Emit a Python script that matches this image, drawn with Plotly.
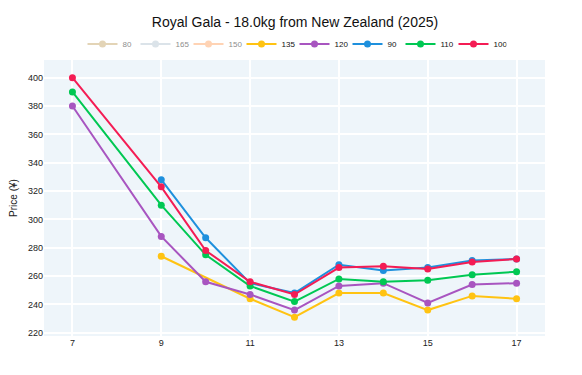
import plotly.graph_objects as go

weeks = [7, 9, 10, 11, 12, 13, 14, 15, 16, 17]

series_names = ["80", "165", "150", "135", "120", "90", "110", "100"]
colors = ["#C8A96E", "#B8C8D4", "#FFA96B", "#FFC312", "#A855C0", "#1E90DD", "#00C853", "#F41C54"]

s80 = [None] * 10
s165 = [None] * 10
s150 = [None] * 10
s135 = [None, 274, None, 244, 231, 248, 248, 236, 246, 244]
s120 = [380, 288, 256, 247, 236, 253, 255, 241, 254, 255]
s90 = [None, 328, 287, 255, 248, 268, 264, 266, 271, 272]
s110 = [390, 310, 275, 253, 242, 258, 256, 257, 261, 263]
s100 = [400, 323, 278, 256, 247, 266, 267, 265, 270, 272]

values = [s80, s165, s150, s135, s120, s90, s110, s100]
visible = [False, False, False, True, True, True, True, True]

W, H = 574, 367  # page body has an 8px margin in the browser

fig = go.Figure()
for name, col, vals, vis in zip(series_names, colors, values, visible):
    xs = [w for w, v in zip(weeks, vals) if v is not None]
    ys = [v for v in vals if v is not None]
    fig.add_trace(go.Scatter(
        x=xs if xs else [weeks[0]], y=ys if ys else [300],
        mode="lines+markers", name=name,
        line=dict(color=col, width=2),
        marker=dict(color=col, size=7),
        visible=True if vis else "legendonly",
    ))

fig.update_layout(
    width=W, height=H,
    margin=dict(l=36, r=37, t=52, b=39, autoexpand=False),
    paper_bgcolor="white",
    plot_bgcolor="#EEF5FA",
    font=dict(family="Liberation Sans, Arial, sans-serif", size=9, color="#222"),
    title=dict(text="Royal Gala - 18.0kg from New Zealand (2025)", x=0.5, xanchor="center",
               y=1 - 14 / H, yanchor="middle", font=dict(size=14, color="#111")),
    legend=dict(orientation="h", x=0.5, xanchor="center", yref="container",
                y=1 - 36 / H, yanchor="middle",
                font=dict(size=8, color="#111"), tracegroupgap=0, itemwidth=30,
                entrywidth=8, entrywidthmode="pixels",
                bgcolor="rgba(0,0,0,0)"),
    showlegend=True,
)
fig.update_xaxes(range=[6.36, 17.64], tickvals=[7, 9, 11, 13, 15, 17],
                 showgrid=True, gridcolor="white", gridwidth=2, zeroline=False,
                 automargin=False, tickfont=dict(size=9))
fig.update_yaxes(range=[217.7, 412.5], dtick=20, showgrid=True, gridcolor="white", gridwidth=2,
                 zeroline=False, automargin=False,
                 title=dict(text="Price (¥)", font=dict(size=10)),
                 tickfont=dict(size=9))

fig.write_html("out.html")
